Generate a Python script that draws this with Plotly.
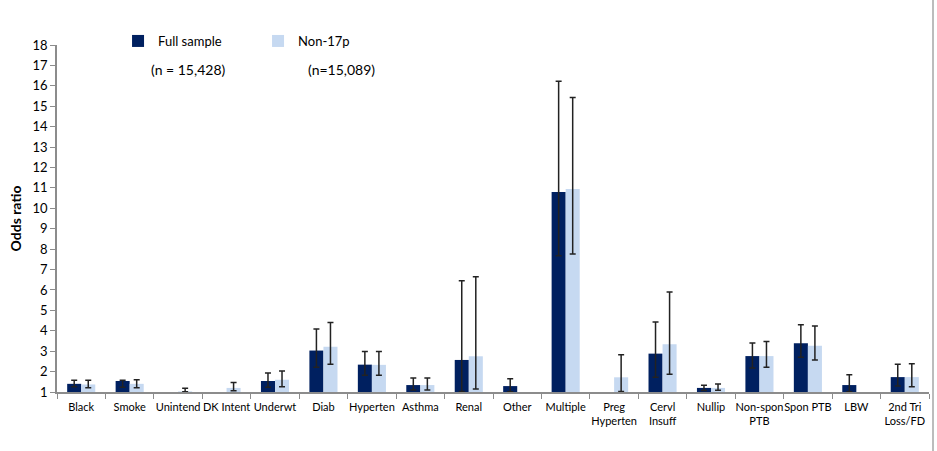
import plotly.graph_objects as go

categories = ["Black", "Smoke", "Unintend", "DK Intent", "Underwt", "Diab", "Hyperten",
              "Asthma", "Renal", "Other", "Multiple", "Preg<br>Hyperten", "Cervl<br>Insuff",
              "Nullip", "Non-spon<br>PTB", "Spon PTB", "LBW", "2nd Tri<br>Loss/FD"]

full_or = [1.40, 1.54, None, None, 1.54, 3.03, 2.34, 1.34, 2.57, 1.29, 10.80, None, 2.88,
           1.20, 2.76, 3.39, 1.34, 1.73]
full_lo = [1.26, 1.23, None, None, 1.23, 2.21, 1.82, 1.10, 1.02, 1.01, 7.67, None, 1.72,
           1.07, 2.18, 2.70, 1.01, 1.29]
full_hi = [1.57, 1.57, None, None, 1.93, 4.09, 2.99, 1.69, 6.45, 1.65, 16.23, None, 4.43,
           1.33, 3.40, 4.30, 1.85, 2.36]

non_or = [1.37, 1.40, 1.03, 1.20, 1.60, 3.22, 2.33, 1.34, 2.75, None, 10.95, 1.72, 3.34,
          1.20, 2.76, 3.27, None, 1.73]
non_lo = [1.21, 1.21, 1.01, 1.06, 1.26, 2.36, 1.82, 1.10, 1.15, None, 7.76, 1.02, 1.87,
          1.08, 2.21, 2.57, None, 1.26]
non_hi = [1.57, 1.60, 1.18, 1.46, 2.03, 4.40, 2.99, 1.69, 6.65, None, 15.43, 2.83, 5.90,
          1.39, 3.48, 4.23, None, 2.39]

y_ticks = list(range(1, 19))
series_names = ["Full sample", "Non-17p"]
n_labels = ["(n = 15,428)", "(n=15,089)"]

FONT = "Lato"
DARK = "#002060"
LIGHT = "#C6D9F1"
AXIS = "#8C8C8C"


def plus(v, hi):
    return [None if a is None else b - a for a, b in zip(v, hi)]


def minus(v, lo):
    return [None if a is None else a - b for a, b in zip(v, lo)]


fig = go.Figure()
for name, vals, lo, hi, col in [
    (series_names[0], full_or, full_lo, full_hi, DARK),
    (series_names[1], non_or, non_lo, non_hi, LIGHT),
]:
    fig.add_trace(go.Bar(
        x=categories, y=vals, name=name, marker=dict(color=col, line=dict(width=0)),
        error_y=dict(type="data", symmetric=False, array=plus(vals, hi),
                     arrayminus=minus(vals, lo), color="#222222", thickness=1.5, width=3),
    ))

fig.update_layout(
    width=937, height=451,
    margin=dict(l=57, r=8, t=45, b=59),
    paper_bgcolor="white", plot_bgcolor="white",
    barmode="group", bargap=0.42, bargroupgap=0,
    font=dict(family=FONT, size=13, color="#000000"),
    legend=dict(orientation="h", x=0.07, y=(392 - 41) / 347, xanchor="left",
                yanchor="middle", font=dict(size=13), entrywidth=95, itemwidth=30,
                bgcolor="rgba(0,0,0,0)"),
    showlegend=True,
)
fig.update_xaxes(
    type="category", showline=True, linecolor=AXIS, linewidth=1.5,
    ticks="outside", tickson="boundaries", ticklen=5, tickcolor=AXIS,
    tickfont=dict(size=11), tickangle=0, ticklabelstandoff=4, showgrid=False,
)
fig.update_yaxes(
    range=[1, 18], tickvals=y_ticks, showline=True, linecolor=AXIS, linewidth=1.5,
    ticks="outside", ticklen=5, tickcolor=AXIS, showgrid=False, zeroline=False,
    tickfont=dict(size=13),
    title=dict(text="<b>Odds ratio</b>", font=dict(size=14), standoff=8),
)

fig.add_annotation(text=n_labels[0], xref="paper", yref="paper",
                   x=(188 - 57) / 872, y=(392 - 69) / 347, xanchor="center",
                   yanchor="middle", showarrow=False, font=dict(size=14))
fig.add_annotation(text=n_labels[1], xref="paper", yref="paper",
                   x=(341 - 57) / 872, y=(392 - 69) / 347, xanchor="center",
                   yanchor="middle", showarrow=False, font=dict(size=14))

fig.add_shape(type="line", xref="paper", yref="paper",
              x0=(933 - 57) / 872, x1=(933 - 57) / 872,
              y0=(392 - 451) / 347, y1=392 / 347,
              line=dict(color="#A6A6A6", width=1.5))

fig.write_html("out.html")
